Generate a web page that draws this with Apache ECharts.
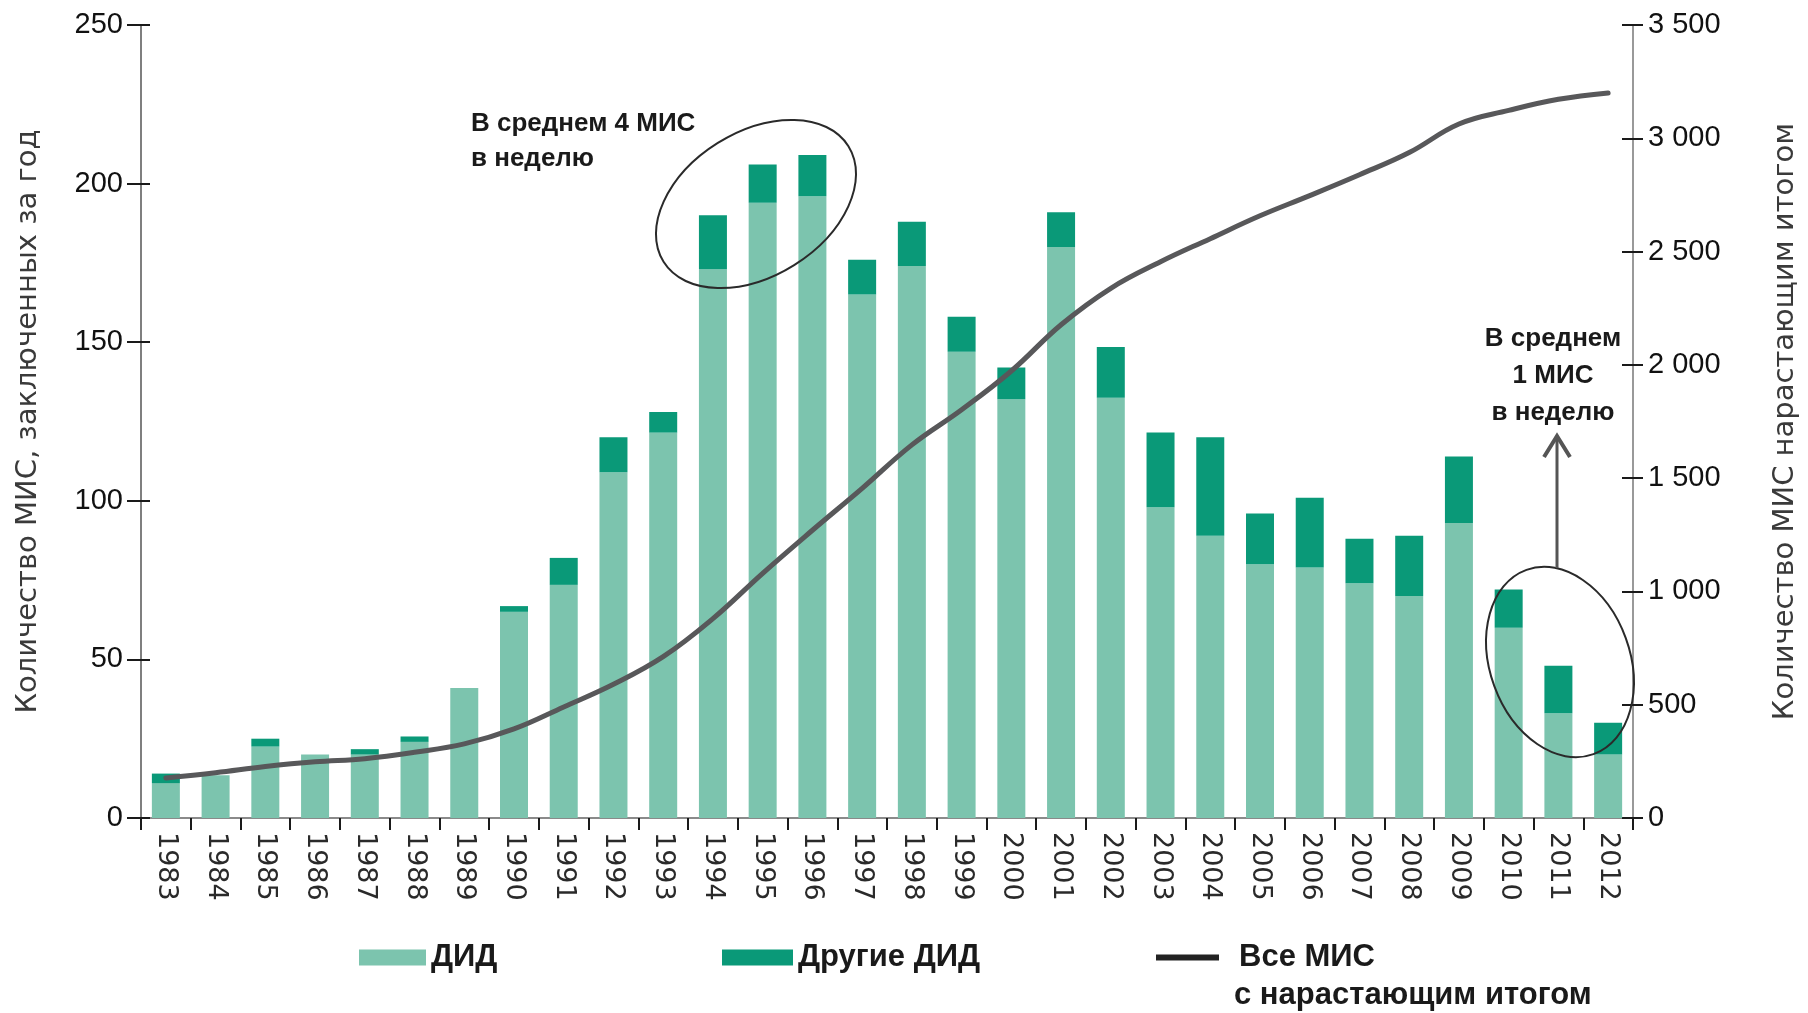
<!DOCTYPE html>
<html>
<head>
<meta charset="utf-8">
<script src="https://cdn.jsdelivr.net/npm/echarts@6/dist/echarts.min.js"></script>
<style>
  html, body { margin: 0; padding: 0; background: #ffffff; }
  #chart { width: 1808px; height: 1013px; }
</style>
</head>
<body>
<div id="chart"></div>
<script>
// ---- Data ----
const years = ['1983','1984','1985','1986','1987','1988','1989','1990','1991','1992',
               '1993','1994','1995','1996','1997','1998','1999','2000','2001','2002',
               '2003','2004','2005','2006','2007','2008','2009','2010','2011','2012'];
const didValues = [11, 13.5, 22.5, 20, 20, 24, 41, 65, 73.5, 109,
                   121.5, 173, 194, 196, 165, 174, 147, 132, 180, 132.5,
                   98, 89, 80, 79, 74, 70, 93, 60, 33, 20];
const otherDidValues = [3, 0, 2.5, 0, 1.7, 1.7, 0, 1.8, 8.5, 11,
                        6.5, 17, 12, 13, 11, 14, 11, 10, 11, 16,
                        23.5, 31, 16, 22, 14, 19, 21, 12, 15, 10];
const cumulativeValues = [177, 200, 227, 248, 262, 290, 327, 393, 490, 590,
                          712, 880, 1080, 1270, 1455, 1647, 1802, 1973, 2177, 2338,
                          2455, 2557, 2658, 2747, 2839, 2937, 3063, 3123, 3172, 3200];
const leftTicks = { min: 0, max: 250, interval: 50 };
const rightTicks = { min: 0, max: 3500, interval: 500 };

const seriesNames = ['ДИД', 'Другие ДИД', 'Все МИС'];
const leftAxisName = 'Количество МИС, заключенных за год';
const rightAxisName = 'Количество МИС нарастающим итогом';

const LIGHT = '#7cc4ae';
const DARK = '#0a9978';
const LINE = '#58585a';

const tickFont = 'Liberation Sans';
const boldFont = 'Liberation Sans';

function spaced(v) { return String(v).replace(/\B(?=(\d{3})+(?!\d))/g, ' '); }

const chart = echarts.init(document.getElementById('chart'), null, { renderer: 'canvas' });

const deg = Math.PI / 180;

chart.setOption({
  animation: false,
  backgroundColor: '#ffffff',
  grid: { left: 141, right: 171, top: 25, bottom: 195, containLabel: false },
  xAxis: [
    {
      type: 'category',
      data: years,
      boundaryGap: true,
      axisLine: { show: true, lineStyle: { color: '#1a1a1a', width: 2 } },
      axisTick: { show: true, alignWithLabel: false, interval: 0, length: 12, lineStyle: { color: '#1a1a1a', width: 2 } },
      axisLabel: { interval: 0, rotate: -90, margin: 14, fontFamily: 'DejaVu Sans', fontSize: 27, color: '#2a2a2a' },
      splitLine: { show: false }
    },
    {
      type: 'category',
      data: years,
      position: 'top',
      axisLine: { show: true, lineStyle: { color: '#8a8a8a', width: 2 } },
      axisTick: { show: false },
      axisLabel: { show: false },
      splitLine: { show: false }
    }
  ],
  yAxis: [
    {
      type: 'value', position: 'left',
      min: leftTicks.min, max: leftTicks.max, interval: leftTicks.interval,
      name: leftAxisName, nameLocation: 'middle', nameRotate: 90, nameGap: 98,
      nameTextStyle: { fontFamily: 'DejaVu Sans', fontSize: 29, color: '#3a3a3a' },
      axisLine: { show: true, lineStyle: { color: '#555', width: 1.5 } },
      axisTick: { show: true, length: 14, lineStyle: { color: '#1a1a1a', width: 2 } },
      axisLabel: { fontFamily: tickFont, fontSize: 29, color: '#111', margin: 18 },
      splitLine: { show: false }
    },
    {
      type: 'value', position: 'right',
      min: rightTicks.min, max: rightTicks.max, interval: rightTicks.interval,
      name: rightAxisName, nameLocation: 'middle', nameRotate: 90, nameGap: 138,
      nameTextStyle: { fontFamily: 'DejaVu Sans', fontSize: 29, color: '#3a3a3a' },
      axisLine: { show: true, lineStyle: { color: '#777', width: 1.5 } },
      axisTick: { show: true, length: 10, lineStyle: { color: '#1a1a1a', width: 2 } },
      axisLabel: { fontFamily: tickFont, fontSize: 29, color: '#111', margin: 15, formatter: spaced },
      splitLine: { show: false }
    },
    {
      type: 'value', position: 'left',
      min: leftTicks.min, max: leftTicks.max, interval: leftTicks.interval,
      axisLine: { show: false },
      axisTick: { show: true, inside: true, length: 9, lineStyle: { color: '#1a1a1a', width: 2 } },
      axisLabel: { show: false },
      splitLine: { show: false }
    },
    {
      type: 'value', position: 'right',
      min: rightTicks.min, max: rightTicks.max, interval: rightTicks.interval,
      axisLine: { show: false },
      axisTick: { show: true, inside: true, length: 11, lineStyle: { color: '#1a1a1a', width: 2 } },
      axisLabel: { show: false },
      splitLine: { show: false }
    }
  ],
  legend: [
    {
      data: [seriesNames[0]], left: 354, top: 937, icon: 'rect',
      itemWidth: 67, itemHeight: 16, itemGap: 0,
      textStyle: { fontFamily: boldFont, fontWeight: 'bold', fontSize: 31, color: '#1a1a1a' }
    },
    {
      data: [seriesNames[1]], left: 717, top: 937, icon: 'rect',
      itemWidth: 71, itemHeight: 16, itemGap: 0,
      textStyle: { fontFamily: boldFont, fontWeight: 'bold', fontSize: 31, color: '#1a1a1a' }
    },
    {
      data: [{ name: seriesNames[2], icon: 'rect', itemStyle: { color: '#222' } }],
      left: 1151, top: 937,
      itemWidth: 63, itemHeight: 6, itemGap: 0,
      textStyle: { fontFamily: boldFont, fontWeight: 'bold', fontSize: 31, color: '#1a1a1a', padding: [0, 0, 0, 15] }
    }
  ],
  series: [
    {
      name: seriesNames[0], type: 'bar', stack: 'mis', data: didValues,
      xAxisIndex: 0, yAxisIndex: 0, barWidth: 28,
      itemStyle: { color: LIGHT }
    },
    {
      name: seriesNames[1], type: 'bar', stack: 'mis', data: otherDidValues,
      xAxisIndex: 0, yAxisIndex: 0, barWidth: 28,
      itemStyle: { color: DARK }
    },
    {
      name: seriesNames[2], type: 'line', data: cumulativeValues,
      xAxisIndex: 0, yAxisIndex: 1, smooth: 0.4, showSymbol: false, symbol: 'none',
      lineStyle: { color: LINE, width: 5, cap: 'round' },
      itemStyle: { color: LINE }, z: 5
    }
  ],
  graphic: [
    { type: 'text', left: 1234, top: 980,
      style: { text: 'с нарастающим итогом', fontFamily: boldFont, fontWeight: 'bold', fontSize: 31, fill: '#1a1a1a' } },
    { type: 'text', left: 471, top: 106,
      style: { text: 'В среднем 4 МИС\nв неделю', fontFamily: boldFont, fontWeight: 'bold', fontSize: 26, lineHeight: 35, fill: '#1a1a1a' } },
    { type: 'ellipse', x: 756, y: 204, rotation: 32 * deg,
      shape: { cx: 0, cy: 0, rx: 109, ry: 72 },
      style: { fill: 'none', stroke: '#2a2a2a', lineWidth: 2 }, z: 10 },
    { type: 'ellipse', x: 1560, y: 662, rotation: -70 * deg,
      shape: { cx: 0, cy: 0, rx: 98, ry: 70 },
      style: { fill: 'none', stroke: '#2a2a2a', lineWidth: 2 }, z: 10 },
    { type: 'line', shape: { x1: 1557, y1: 568, x2: 1557, y2: 436 },
      style: { stroke: '#555', lineWidth: 3 }, z: 10 },
    { type: 'polyline', shape: { points: [[1544, 457], [1557, 436], [1570, 457]] },
      style: { fill: 'none', stroke: '#555', lineWidth: 4 }, z: 10 },
    { type: 'text', x: 1553, y: 320,
      style: { text: 'В среднем\n1 МИС\nв неделю', align: 'center', fontFamily: boldFont, fontWeight: 'bold', fontSize: 26, lineHeight: 37, fill: '#1a1a1a' } }
  ]
});
</script>
</body>
</html>
